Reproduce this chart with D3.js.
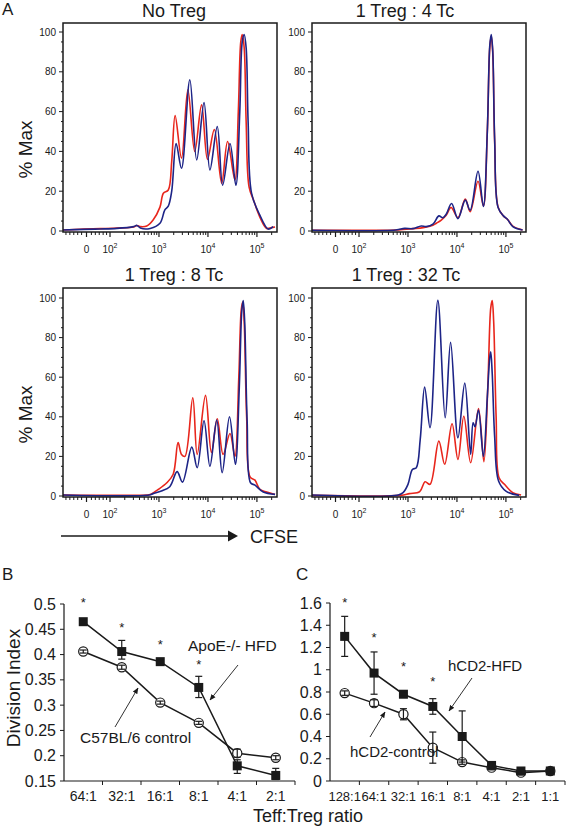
<!DOCTYPE html>
<html><head><meta charset="utf-8">
<script src="https://cdn.jsdelivr.net/npm/d3@7"></script>
<style>
html,body{margin:0;padding:0;background:#fff;}
svg{display:block;font-family:Arial,"Liberation Sans",Helvetica,sans-serif;}
</style></head>
<body>
<svg id="c" width="567" height="827"></svg>
<script>
// ---------------- DATA ----------------
const histTitles = ["No Treg", "1 Treg : 4 Tc", "1 Treg : 8 Tc", "1 Treg : 32 Tc"];
// x = log10(CFSE) display units, y = % Max
const redNoTreg = [[1.04,0.5],[1.46,1.0],[1.80,1.2],[2.14,1.5],[2.48,2.0],[2.55,2.8],[2.62,2.2],[2.75,2.5],[2.88,5.5],[3.02,12],[3.09,19],[3.19,20.6],[3.26,35],[3.33,58],[3.46,36.6],[3.59,71],[3.73,40],[3.87,63.4],[3.99,36],[4.13,51],[4.28,24],[4.40,45],[4.55,25.7],[4.62,60],[4.67,95],[4.70,98.7],[4.74,92],[4.78,55],[4.84,22],[4.93,15.6],[5.06,7],[5.20,1.3],[5.30,1.7],[5.37,2]];
const blueNoTreg = [[1.04,0.5],[1.46,0.8],[1.80,1.0],[2.14,1.3],[2.48,2.2],[2.55,2.8],[2.62,1.5],[2.82,1.3],[3.02,3.9],[3.12,10.6],[3.19,12.5],[3.26,20],[3.35,44],[3.46,31.5],[3.63,76],[3.77,35.7],[3.92,64.6],[4.04,30.7],[4.19,52.5],[4.30,23],[4.45,44],[4.57,23],[4.65,60],[4.70,95],[4.74,98.7],[4.78,92],[4.82,55],[4.89,19],[5.06,8],[5.23,1],[5.33,2.2]];
const red4Tc = [[1.04,0.4],[2.75,0.5],[2.90,0.8],[3.10,1.2],[3.31,1.7],[3.51,2.9],[3.58,3.9],[3.68,5.5],[3.78,7.9],[3.88,11.8],[4.02,6.7],[4.17,16],[4.27,9.7],[4.43,25],[4.54,12.6],[4.62,50],[4.67,92],[4.70,98],[4.73,90],[4.77,45],[4.84,12],[4.95,7.5],[5.03,5.9],[5.14,2.5],[5.34,0.5]];
const blue4Tc = [[1.04,0.4],[2.75,0.5],[2.93,1.3],[3.10,1.2],[3.27,2.5],[3.37,2.2],[3.51,3.4],[3.63,7.6],[3.71,6.7],[3.78,8.4],[3.89,13.8],[4.02,6.2],[4.17,15.5],[4.27,10.4],[4.43,30],[4.54,12.3],[4.62,50],[4.67,93],[4.70,98.7],[4.73,91],[4.77,46],[4.84,11.8],[4.95,7.6],[5.03,5.9],[5.14,2.2],[5.34,0.5]];
const red8Tc = [[1.04,0.5],[2.75,0.5],[2.82,0.8],[2.99,3.4],[3.16,6.7],[3.29,11],[3.39,27],[3.46,21],[3.53,20],[3.69,49.6],[3.78,21],[3.95,50.8],[4.07,22],[4.19,39],[4.31,21],[4.45,31.6],[4.55,20],[4.63,60],[4.68,94],[4.71,98],[4.74,88],[4.79,40],[4.86,9.6],[4.96,8],[5.06,3.4],[5.20,2],[5.37,0.8]];
const blue8Tc = [[1.04,0.5],[2.80,0.5],[2.88,1.2],[3.05,2.5],[3.22,4.7],[3.37,12.3],[3.48,7],[3.67,24.7],[3.78,14.3],[3.92,38],[4.04,15],[4.18,38.3],[4.29,11.8],[4.44,40],[4.56,16],[4.64,55],[4.69,93],[4.72,98.7],[4.75,88],[4.80,38],[4.87,6.7],[4.96,5.5],[5.13,2],[5.37,0.8]];
const red32Tc = [[1.04,0.3],[2.85,0.3],[3.03,1.2],[3.24,2.2],[3.35,7.2],[3.45,5.9],[3.63,27.7],[3.75,16],[3.90,36.5],[4.02,18.5],[4.14,40.3],[4.28,16.8],[4.44,44.2],[4.55,17.3],[4.63,55],[4.69,95],[4.72,98.7],[4.75,88],[4.80,40],[4.86,9.2],[4.97,5.9],[5.14,1.7],[5.31,0.5]];
const blue32Tc = [[1.04,0.5],[2.80,0.5],[2.90,1.7],[3.00,5.9],[3.09,13.4],[3.17,14.3],[3.25,28.6],[3.34,55],[3.45,34.5],[3.61,98.8],[3.76,39.5],[3.87,77.6],[4.02,29.4],[4.16,57],[4.28,21],[4.33,37],[4.37,35],[4.44,43.4],[4.54,20],[4.62,50],[4.67,70],[4.69,72.8],[4.72,62],[4.77,30],[4.85,7.6],[5.00,2.5],[5.27,0.3]];
const histYTicks = [0, 20, 40, 60, 80, 100];
const histXTickVals = [1.52, 2, 3, 4, 5];
const histXTickLabels = [["0",""], ["10","2"], ["10","3"], ["10","4"], ["10","5"]];
const histXLowMinor = [1.1, 1.18, 1.26, 1.34, 1.42, 1.62, 1.7, 1.78, 1.86, 1.93];

const ratiosB = ["64:1", "32:1", "16:1", "8:1", "4:1", "2:1"];
const apoeHFD = [0.465, 0.406, 0.386, 0.335, 0.180, 0.161];
const apoeErrUp = [0.004, 0.022, 0.004, 0.022, 0.012, 0.014];
const apoeErrDn = [0.004, 0.015, 0.004, 0.020, 0.015, 0.008];
const c57ctrl = [0.406, 0.375, 0.305, 0.265, 0.205, 0.196];
const c57Err = [0.003, 0.004, 0.003, 0.003, 0.008, 0.004];
const starsB = [0.508, 0.458, 0.424, 0.386];
const yTicksB = [0.15, 0.2, 0.25, 0.3, 0.35, 0.4, 0.45, 0.5];

const ratiosC = ["128:1", "64:1", "32:1", "16:1", "8:1", "4:1", "2:1", "1:1"];
const hcd2HFD = [1.30, 0.97, 0.78, 0.67, 0.40, 0.14, 0.09, 0.09];
const hcd2HFDErr = [0.18, 0.19, 0.02, 0.07, 0.23, 0.02, 0.02, 0.02];
const hcd2Ctrl = [0.79, 0.70, 0.60, 0.30, 0.17, 0.12, 0.075, 0.09];
const hcd2CtrlErr = [0.02, 0.03, 0.05, 0.14, 0.02, 0.02, 0.02, 0.02];
const starsC = [1.63, 1.31, 1.05, 0.92];
const yTicksC = [0, 0.2, 0.4, 0.6, 0.8, 1, 1.2, 1.4, 1.6];

// ---------------- DRAW ----------------
const svg = d3.select("#c");
const RED = "#e8261c", BLUE = "#1d2487", INK = "#1a1a1a";

svg.append("text").attr("x", 2).attr("y", 15).attr("font-size", 17).attr("fill", INK).text("A");

const panels = [
  {title: histTitles[0], red: redNoTreg, blue: blueNoTreg, x0: 63, x1: 277, yTop: 23, y100: 32, y0: 231, tx: 174, ty: 17, ylab: true},
  {title: histTitles[1], red: red4Tc, blue: blue4Tc, x0: 312, x1: 526, yTop: 23, y100: 32, y0: 231, tx: 405, ty: 17, ylab: false},
  {title: histTitles[2], red: red8Tc, blue: blue8Tc, x0: 63, x1: 277, yTop: 288, y100: 298, y0: 496, tx: 174, ty: 281, ylab: true},
  {title: histTitles[3], red: red32Tc, blue: blue32Tc, x0: 312, x1: 526, yTop: 288, y100: 298, y0: 496, tx: 406, ty: 281, ylab: false}
];

panels.forEach(p => {
  const g = svg.append("g");
  const x = d3.scaleLinear().domain([1.04, 5.41]).range([p.x0, p.x1]);
  const y = d3.scaleLinear().domain([0, 100]).range([p.y0, p.y100]);
  const bottom = p.y0 + 1;
  const line = d3.line().x(d => x(d[0])).y(d => Math.min(y(d[1]), p.y0 + 0.5)).curve(d3.curveCatmullRom.alpha(0.5));
  g.append("path").datum(p.red).attr("d", line).attr("fill", "none").attr("stroke", RED).attr("stroke-width", 1.6).attr("stroke-linejoin", "round");
  g.append("path").datum(p.blue).attr("d", line).attr("fill", "none").attr("stroke", BLUE).attr("stroke-width", 1.6).attr("stroke-linejoin", "round");
  g.append("rect").attr("x", p.x0).attr("y", p.yTop).attr("width", p.x1 - p.x0).attr("height", bottom - p.yTop)
    .attr("fill", "none").attr("stroke", INK).attr("stroke-width", 1.5);
  const yMinor = d3.range(0, 101, 5);
  g.selectAll(null).data(yMinor).join("line")
    .attr("x1", p.x0).attr("x2", d => p.x0 - (d % 20 === 0 ? 4 : 2))
    .attr("y1", d => y(d)).attr("y2", d => y(d)).attr("stroke", INK).attr("stroke-width", 1);
  g.selectAll(null).data(histYTicks).join("text")
    .attr("x", p.x0 - 7).attr("y", d => y(d) + 3.5).attr("text-anchor", "end")
    .attr("font-size", 10).attr("fill", INK).text(d => d);
  const minor = [];
  [2, 3, 4].forEach(dd => d3.range(2, 10).forEach(k => minor.push(dd + Math.log10(k))));
  minor.push(5 + Math.log10(2));
  histXLowMinor.forEach(v => minor.push(v));
  g.selectAll(null).data(minor).join("line")
    .attr("x1", d => x(d)).attr("x2", d => x(d)).attr("y1", bottom).attr("y2", bottom + 3)
    .attr("stroke", INK).attr("stroke-width", 1);
  g.selectAll(null).data(histXTickVals).join("line")
    .attr("x1", d => x(d)).attr("x2", d => x(d)).attr("y1", bottom).attr("y2", bottom + 5)
    .attr("stroke", INK).attr("stroke-width", 1.2);
  const lbl = g.selectAll(null).data(histXTickVals).join("text")
    .attr("x", d => x(d)).attr("y", bottom + 21).attr("text-anchor", "middle")
    .attr("font-size", 10).attr("fill", INK);
  lbl.append("tspan").text((d, i) => histXTickLabels[i][0]);
  lbl.append("tspan").attr("dy", -5).attr("font-size", 7).text((d, i) => histXTickLabels[i][1]);
  g.append("text").attr("x", p.tx).attr("y", p.ty).attr("text-anchor", "middle")
    .attr("font-size", 18).attr("fill", INK).text(p.title);
  if (p.ylab) {
    const cy = (p.yTop + bottom) / 2 + 22;
    g.append("text").attr("transform", `translate(32,${cy}) rotate(-90)`).attr("text-anchor", "middle")
      .attr("font-size", 19).attr("fill", INK).text("% Max");
  }
});

// CFSE arrow
svg.append("line").attr("x1", 61).attr("x2", 229).attr("y1", 536).attr("y2", 536).attr("stroke", INK).attr("stroke-width", 1.3);
svg.append("path").attr("d", "M228,530.5 L238,536 L228,541.5 Z").attr("fill", INK);
svg.append("text").attr("x", 250).attr("y", 542.5).attr("font-size", 18).attr("fill", INK).text("CFSE");

const defs = svg.append("defs");
defs.append("marker").attr("id", "ah").attr("viewBox", "0 0 10 10").attr("refX", 9).attr("refY", 5)
  .attr("markerWidth", 7).attr("markerHeight", 7).attr("orient", "auto-start-reverse")
  .append("path").attr("d", "M0,1 L10,5 L0,9 Z").attr("fill", INK);

function linePanel(cfg) {
  const g = svg.append("g");
  const x = d3.scaleBand().domain(cfg.cats).range([cfg.x0, cfg.x1]);
  const y = d3.scaleLinear().domain(cfg.ydom).range([cfg.yb, cfg.yt]);
  const cx = d => x(d) + x.bandwidth() / 2;
  g.append("line").attr("x1", cfg.x0).attr("x2", cfg.x0).attr("y1", cfg.yt).attr("y2", cfg.yb).attr("stroke", INK).attr("stroke-width", 1.2);
  g.append("line").attr("x1", cfg.x0).attr("x2", cfg.x1).attr("y1", cfg.yb).attr("y2", cfg.yb).attr("stroke", INK).attr("stroke-width", 1.2);
  g.selectAll(null).data(cfg.yticks).join("line").attr("x1", cfg.x0 - 4).attr("x2", cfg.x0)
    .attr("y1", d => y(d)).attr("y2", d => y(d)).attr("stroke", INK);
  g.selectAll(null).data(cfg.yticks).join("text").attr("x", cfg.x0 - 8).attr("y", d => y(d) + 5.5)
    .attr("text-anchor", "end").attr("font-size", cfg.yfs).attr("fill", INK).text(d => d3.format("")(+d.toFixed(2)));
  const bounds = cfg.cats.map(c => x(c)).concat([cfg.x1]);
  g.selectAll(null).data(bounds.slice(1)).join("line").attr("x1", d => d).attr("x2", d => d)
    .attr("y1", cfg.yb).attr("y2", cfg.yb + 4).attr("stroke", INK);
  g.selectAll(null).data(cfg.cats).join("text").attr("x", d => cx(d)).attr("y", cfg.yb + 20)
    .attr("text-anchor", "middle").attr("font-size", cfg.xfs).attr("fill", INK).text(d => d);
  const ln = d3.line().x((d, i) => cx(cfg.cats[i])).y(d => y(d));
  g.append("path").datum(cfg.ctrl).attr("d", ln).attr("fill", "none").attr("stroke", INK).attr("stroke-width", 1.5);
  g.append("path").datum(cfg.hfd).attr("d", ln).attr("fill", "none").attr("stroke", INK).attr("stroke-width", 1.5);
  function errs(vals, up, dn) {
    vals.forEach((v, i) => {
      const xx = cx(cfg.cats[i]);
      const a = y(v + up[i]), b = y(v - dn[i]);
      g.append("line").attr("x1", xx).attr("x2", xx).attr("y1", a).attr("y2", b).attr("stroke", INK).attr("stroke-width", 1.2);
      g.append("line").attr("x1", xx - 3.5).attr("x2", xx + 3.5).attr("y1", a).attr("y2", a).attr("stroke", INK).attr("stroke-width", 1.2);
      g.append("line").attr("x1", xx - 3.5).attr("x2", xx + 3.5).attr("y1", b).attr("y2", b).attr("stroke", INK).attr("stroke-width", 1.2);
    });
  }
  g.selectAll(null).data(cfg.ctrl).join("circle").attr("cx", (d, i) => cx(cfg.cats[i])).attr("cy", d => y(d))
    .attr("r", 4.6).attr("fill", "#fff").attr("stroke", INK).attr("stroke-width", 1.2);
  errs(cfg.ctrl, cfg.ctrlErrUp, cfg.ctrlErrDn);
  g.selectAll(null).data(cfg.hfd).join("rect").attr("x", (d, i) => cx(cfg.cats[i]) - 4.5).attr("y", d => y(d) - 4.5)
    .attr("width", 9).attr("height", 9).attr("fill", INK);
  errs(cfg.hfd, cfg.hfdErrUp, cfg.hfdErrDn);
  g.selectAll(null).data(cfg.stars).join("text").attr("x", (d, i) => cx(cfg.cats[i])).attr("y", d => y(d) + 7)
    .attr("text-anchor", "middle").attr("font-size", 13).attr("fill", INK).text("*");
  cfg.notes.forEach(n => {
    g.append("text").attr("x", n.tx).attr("y", n.ty).attr("font-size", n.fs).attr("fill", INK).text(n.text);
    g.append("line").attr("x1", n.a[0]).attr("y1", n.a[1]).attr("x2", n.a[2]).attr("y2", n.a[3])
      .attr("stroke", INK).attr("stroke-width", 0.9).attr("marker-end", "url(#ah)");
  });
  return g;
}

svg.append("text").attr("x", 2).attr("y", 580).attr("font-size", 17).attr("fill", INK).text("B");
svg.append("text").attr("x", 296).attr("y", 580).attr("font-size", 17).attr("fill", INK).text("C");

linePanel({
  cats: ratiosB, x0: 64, x1: 295, yt: 604, yb: 781, ydom: [0.15, 0.5], yticks: yTicksB, yfs: 16, xfs: 14,
  hfd: apoeHFD, hfdErrUp: apoeErrUp, hfdErrDn: apoeErrDn, ctrl: c57ctrl, ctrlErrUp: c57Err, ctrlErrDn: c57Err,
  stars: starsB,
  notes: [
    {text: "ApoE-/- HFD", tx: 188, ty: 651, fs: 15.5, a: [238, 665, 210, 700]},
    {text: "C57BL/6 control", tx: 80, ty: 743, fs: 15.5, a: [115, 727, 138, 688]}
  ]
});
linePanel({
  cats: ratiosC, x0: 330, x1: 565, yt: 603, yb: 781, ydom: [0, 1.6], yticks: yTicksC, yfs: 16, xfs: 13,
  hfd: hcd2HFD, hfdErrUp: hcd2HFDErr, hfdErrDn: hcd2HFDErr, ctrl: hcd2Ctrl, ctrlErrUp: hcd2CtrlErr, ctrlErrDn: hcd2CtrlErr,
  stars: starsC,
  notes: [
    {text: "hCD2-HFD", tx: 448, ty: 671, fs: 15, a: [472, 678, 449, 711]},
    {text: "hCD2-control", tx: 350, ty: 757, fs: 15, a: [370, 737, 385, 712]}
  ]
});

svg.append("text").attr("transform", "translate(20,688) rotate(-90)").attr("text-anchor", "middle")
  .attr("font-size", 19).attr("fill", INK).text("Division Index");
svg.append("text").attr("x", 308).attr("y", 822).attr("text-anchor", "middle")
  .attr("font-size", 18).attr("fill", INK).text("Teff:Treg ratio");
</script>
</body></html>
